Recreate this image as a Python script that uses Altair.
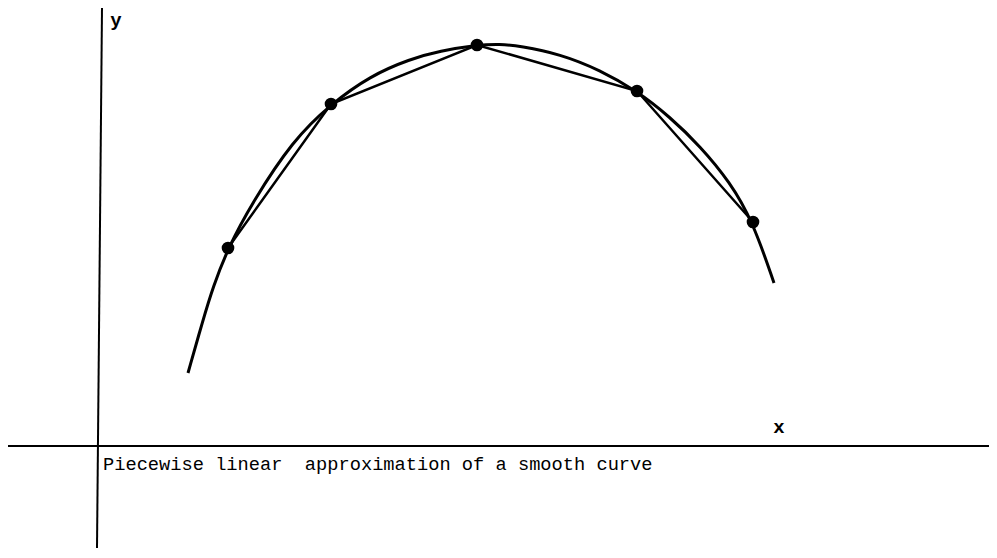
import altair as alt
import pandas as pd

# smooth curve (x, y in axis units)
curve_x = [0.90, 1.05, 1.15, 1.30, 1.54, 1.95, 2.33, 2.72, 3.12, 3.42, 3.79, 4.02, 4.22, 4.62, 5.02, 5.39, 5.72, 6.02, 6.32, 6.55, 6.76]
curve_y = [0.73, 1.26, 1.59, 1.98, 2.43, 3.06, 3.42, 3.70, 3.87, 3.95, 4.01, 4.02, 4.00, 3.92, 3.76, 3.55, 3.29, 3.00, 2.64, 2.24, 1.63]

# piecewise linear nodes
node_x = [1.30, 2.33, 3.79, 5.39, 6.55]
node_y = [1.98, 3.42, 4.01, 3.55, 2.24]

caption = "Piecewise linear\u00a0 approximation of a smooth curve"

X_DOM = [-0.90, 8.91]
Y_DOM = [-1.02, 4.38]

xs = alt.Scale(domain=X_DOM, nice=False, zero=False)
ys = alt.Scale(domain=Y_DOM, nice=False, zero=False)
noax = None

curve_df = pd.DataFrame({"x": curve_x, "y": curve_y})
node_df = pd.DataFrame({"x": node_x, "y": node_y})

axes_df = pd.DataFrame({
    "x": [0.04, X_DOM[0]],
    "x2": [-0.01, X_DOM[1]],
    "y": [Y_DOM[1], 0.0],
    "y2": [Y_DOM[0], 0.0],
})

axes = alt.Chart(axes_df).mark_rule(color="black", strokeWidth=2).encode(
    x=alt.X("x:Q", scale=xs, axis=noax),
    x2="x2:Q",
    y=alt.Y("y:Q", scale=ys, axis=noax),
    y2="y2:Q",
)

curve = alt.Chart(curve_df).mark_line(color="black", strokeWidth=3, interpolate="basis").encode(
    x=alt.X("x:Q", scale=xs, axis=noax),
    y=alt.Y("y:Q", scale=ys, axis=noax),
)

chords = alt.Chart(node_df).mark_line(color="black", strokeWidth=2.5).encode(
    x=alt.X("x:Q", scale=xs, axis=noax),
    y=alt.Y("y:Q", scale=ys, axis=noax),
)

nodes = alt.Chart(node_df).mark_point(filled=True, color="black", size=160, opacity=1).encode(
    x=alt.X("x:Q", scale=xs, axis=noax),
    y=alt.Y("y:Q", scale=ys, axis=noax),
)

labels_df = pd.DataFrame({
    "x": [0.18, 6.81],
    "y": [4.26, 0.19],
    "t": ["y", "x"],
})
labels = alt.Chart(labels_df).mark_text(
    font="Liberation Mono", fontSize=19, fontWeight="bold", color="black", align="center", baseline="middle"
).encode(
    x=alt.X("x:Q", scale=xs, axis=noax),
    y=alt.Y("y:Q", scale=ys, axis=noax),
    text="t:N",
)

cap_df = pd.DataFrame({"x": [0.05], "y": [-0.18], "t": [caption]})
cap = alt.Chart(cap_df).mark_text(
    font="Liberation Mono", fontSize=18.7, color="black", align="left", baseline="middle"
).encode(
    x=alt.X("x:Q", scale=xs, axis=noax),
    y=alt.Y("y:Q", scale=ys, axis=noax),
    text="t:N",
)

chart = alt.layer(axes, curve, chords, nodes, labels, cap).properties(
    width=981, height=540, padding=0, autosize=alt.AutoSizeParams(type="none"),
    background="white",
).configure_view(stroke=None)

chart.save("out.html", embed_options={"renderer": "svg", "actions": False})
